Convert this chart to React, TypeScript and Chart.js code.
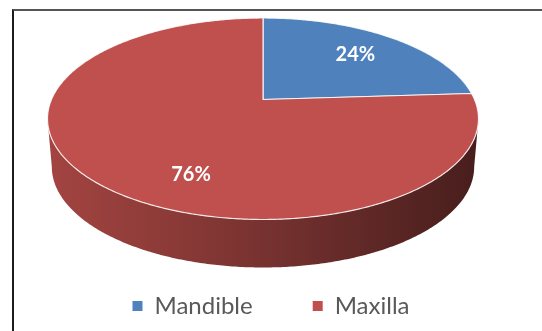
import React, { useEffect, useRef } from 'react';
import { Chart, registerables, PieController, ArcElement } from 'chart.js';

Chart.register(...registerables);

// ---- data ----
const categories = ['Mandible', 'Maxilla'];
const shares = [24, 76];
const sliceColors = ['#4F81BD', '#C0504D'];

// ---- 3D view settings (style / geometry, not data) ----
const VIEW = {
  persp: 0.191,
  tilt: 0.4675,
  depth: 48,
  bottomShrink: 0.98,
  offsetX: -8,
  labelRadius: [0.7, 0.735],
  labelAngleShift: [0, -19.4],
  sideShades: [0.85, 0.72, 0.57, 0.37],
};

type Proj = (theta: number, r?: number) => [number, number];

function makeProj(el: any, area: any): Proj {
  const R = el.outerRadius;
  const p = VIEW.persp;
  const A = R * Math.sqrt(1 - p * p);
  const ry = R * VIEW.tilt;
  const B = ry * (1 - p * p);
  const cx = el.x + VIEW.offsetX;
  const cy = area.top + B / (1 + p);
  return (theta: number, r = 1) => {
    const u = r * Math.cos(theta);
    const v = r * Math.sin(theta);
    const w = 1 - p * v;
    return [cx + (A * u) / w, cy + (B * v) / w];
  };
}

function shade(hex: string, f: number) {
  const n = parseInt(hex.slice(1), 16);
  const r = Math.round(((n >> 16) & 255) * f);
  const g = Math.round(((n >> 8) & 255) * f);
  const b = Math.round((n & 255) * f);
  return `rgb(${r},${g},${b})`;
}

class Arc3D extends ArcElement {
  static id = 'arc3d';
  draw(ctx: CanvasRenderingContext2D) {
    const proj: Proj = (this as any).$proj;
    if (!proj) return;
    const { startAngle, endAngle } = (this as any).getProps(['startAngle', 'endAngle']);
    const o: any = (this as any).options;
    ctx.save();
    ctx.beginPath();
    const [x0, y0] = proj(0, 0);
    ctx.moveTo(x0, y0);
    const n = Math.max(2, Math.ceil((endAngle - startAngle) / 0.01));
    for (let i = 0; i <= n; i++) {
      const t = startAngle + ((endAngle - startAngle) * i) / n;
      const [x, y] = proj(t, 1);
      ctx.lineTo(x, y);
    }
    ctx.closePath();
    ctx.fillStyle = o.backgroundColor;
    ctx.fill();
    if (o.borderWidth) {
      ctx.lineWidth = o.borderWidth;
      ctx.strokeStyle = o.borderColor;
      ctx.lineJoin = 'round';
      ctx.stroke();
    }
    ctx.restore();
  }
}

class Pie3DController extends PieController {
  static id = 'pie3d';
  static defaults = { dataElementType: 'arc3d' };
}

Chart.register(Arc3D as any, Pie3DController as any);

const pie3dPlugin = {
  id: 'pie3dSides',
  beforeDatasetsDraw(chart: any) {
    const ctx: CanvasRenderingContext2D = chart.ctx;
    const area = chart.chartArea;
    const meta = chart.getDatasetMeta(0);
    const p = VIEW.persp;
    const ta = Math.asin(p);
    const tb = Math.PI - ta;
    meta.data.forEach((el: any, i: number) => {
      const proj = makeProj(el, area);
      el.$proj = proj;
      const R = el.outerRadius;
      const [cx] = proj(0, 0);
      const color = sliceColors[i % sliceColors.length];
      for (let k = -1; k <= 1; k++) {
        const a0 = Math.max(el.startAngle, ta + 2 * Math.PI * k);
        const a1 = Math.min(el.endAngle, tb + 2 * Math.PI * k);
        if (a1 <= a0) continue;
        const n = Math.max(2, Math.ceil((a1 - a0) / 0.01));
        ctx.save();
        ctx.beginPath();
        for (let j = 0; j <= n; j++) {
          const t = a0 + ((a1 - a0) * j) / n;
          const [x, y] = proj(t, 1);
          if (j === 0) ctx.moveTo(x, y);
          else ctx.lineTo(x, y);
        }
        for (let j = n; j >= 0; j--) {
          const t = a0 + ((a1 - a0) * j) / n;
          const [x, y] = proj(t, 1);
          ctx.lineTo(cx + (x - cx) * VIEW.bottomShrink, y + VIEW.depth);
        }
        ctx.closePath();
        const g = ctx.createLinearGradient(cx - R, 0, cx + R, 0);
        const s = VIEW.sideShades;
        g.addColorStop(0, shade(color, s[0]));
        g.addColorStop(0.3, shade(color, s[1]));
        g.addColorStop(0.6, shade(color, s[2]));
        g.addColorStop(1, shade(color, s[3]));
        ctx.fillStyle = g;
        ctx.fill();
        ctx.restore();
      }
    });
  },
  afterDatasetsDraw(chart: any) {
    const ctx: CanvasRenderingContext2D = chart.ctx;
    const meta = chart.getDatasetMeta(0);
    const values = chart.data.datasets[0].data as number[];
    const total = values.reduce((a, b) => a + b, 0);
    ctx.save();
    ctx.fillStyle = '#ffffff';
    ctx.font = 'bold 20px Lato, "Open Sans", sans-serif';
    ctx.textAlign = 'center';
    ctx.textBaseline = 'middle';
    meta.data.forEach((el: any, i: number) => {
      const proj: Proj = el.$proj;
      if (!proj) return;
      const mid = (el.startAngle + el.endAngle) / 2 + (VIEW.labelAngleShift[i] * Math.PI) / 180;
      const [x, y] = proj(mid, VIEW.labelRadius[i]);
      const pct = Math.round((values[i] / total) * 100) + '%';
      ctx.fillText(pct, x, y);
    });
    ctx.restore();
  },
};

export default function App() {
  const ref = useRef<HTMLCanvasElement | null>(null);
  useEffect(() => {
    if (!ref.current) return;
    const chart = new Chart(ref.current, {
      type: 'pie3d' as any,
      data: {
        labels: categories,
        datasets: [
          {
            data: shares,
            backgroundColor: sliceColors,
            borderColor: 'rgba(255,255,255,0.85)',
            borderWidth: 1.2,
          } as any,
        ],
      },
      options: {
        responsive: false,
        animation: false,
        radius: 215.5,
        layout: { padding: { top: 18, bottom: 3, left: 0, right: 0 } },
        plugins: {
          tooltip: { enabled: false },
          legend: {
            display: true,
            position: 'bottom',
            labels: {
              boxWidth: 10,
              boxHeight: 10,
              padding: 60,
              color: '#595959',
              font: { family: 'Lato, "Open Sans", sans-serif', size: 24 },
              generateLabels: (c: any) =>
                (c.data.labels as string[]).map((l, i) => ({
                  text: l,
                  fillStyle: sliceColors[i],
                  strokeStyle: sliceColors[i],
                  lineWidth: 0,
                  hidden: false,
                  index: i,
                  fontColor: '#595959',
                })),
            },
          },
        },
      } as any,
      plugins: [pie3dPlugin],
    });
    return () => chart.destroy();
  }, []);
  return (
    <div style={{ position: 'fixed', left: 0, top: 0, width: 542, height: 331, background: '#fff', overflow: 'hidden' }}>
      <div
        style={{
          position: 'absolute',
          left: 12,
          top: 9,
          width: 600,
          height: 400,
          borderTop: '2px solid #555',
          borderLeft: '2px solid #1c1c1c',
          boxSizing: 'border-box',
        }}
      />
      <canvas ref={ref} width={542} height={331} style={{ position: 'absolute', left: 0, top: 0 }} />
    </div>
  );
}
